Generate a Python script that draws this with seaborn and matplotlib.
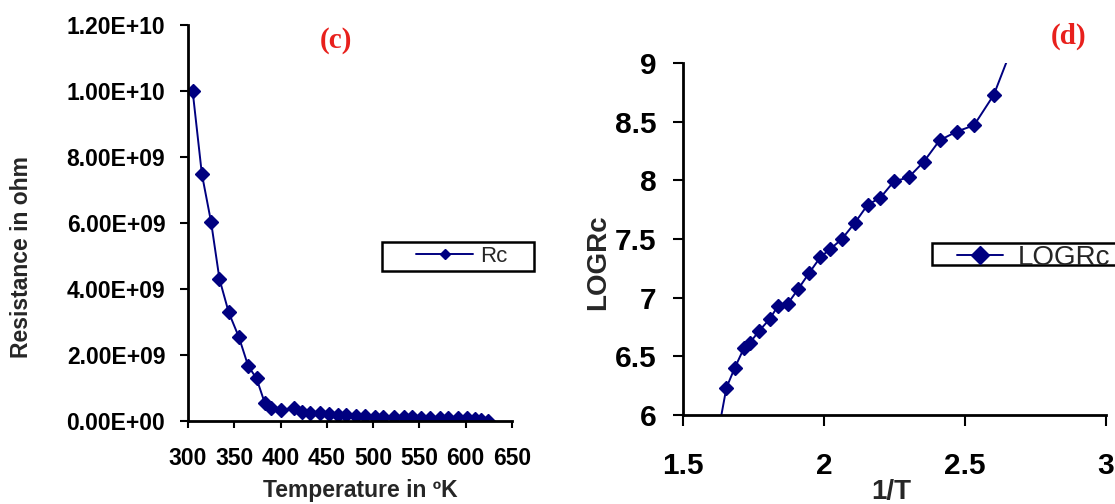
import matplotlib
matplotlib.use("Agg")
import matplotlib.pyplot as plt
import seaborn as sns
import pandas as pd
from matplotlib.patches import Rectangle
from matplotlib.ticker import FuncFormatter, FixedLocator

# ---- data: panel (c) ----
temperature_K = [305, 315, 325, 334, 344, 355, 365, 374, 383,
                 390, 401, 414, 423, 432, 443, 452, 462, 471, 482, 491,
                 502, 511, 522, 533, 542, 552, 561, 572, 581, 592, 601,
                 610, 617, 624]
resistance_ohm = [1.00e10, 7.48e9, 6.02e9, 4.30e9, 3.29e9, 2.54e9, 1.67e9, 1.29e9, 0.54e9,
                  0.38e9, 0.33e9, 0.40e9, 0.28e9, 0.25e9, 0.24e9, 0.22e9, 0.18e9, 0.17e9,
                  0.15e9, 0.14e9, 0.13e9, 0.12e9, 0.12e9, 0.11e9, 0.11e9, 0.10e9, 0.10e9,
                  0.10e9, 0.09e9, 0.09e9, 0.08e9, 0.06e9, 0.03e9, 0.01e9]

# ---- data: panel (d) ----
inv_T = [1.630, 1.654, 1.684, 1.716, 1.736, 1.770, 1.807, 1.837, 1.871, 1.908,
         1.947, 1.987, 2.023, 2.063, 2.109, 2.155, 2.200, 2.248, 2.300, 2.354,
         2.410, 2.470, 2.532, 2.602, 2.670]
log_Rc = [5.92, 6.233, 6.404, 6.569, 6.612, 6.717, 6.817, 6.930, 6.947, 7.072,
          7.209, 7.345, 7.416, 7.499, 7.636, 7.792, 7.852, 7.991, 8.025, 8.159,
          8.341, 8.415, 8.469, 8.728, 9.15]

left_xticks = [300, 350, 400, 450, 500, 550, 600, 650]
left_yticks = [0, 2e9, 4e9, 6e9, 8e9, 1e10, 1.2e10]
right_xticks = [1.5, 2, 2.5, 3]
right_yticks = [6, 6.5, 7, 7.5, 8, 8.5, 9]

df_c = pd.DataFrame({"T": temperature_K, "R": resistance_ohm})
df_d = pd.DataFrame({"invT": inv_T, "logR": log_Rc})

sns.set_theme(style="ticks")
plt.rcParams["font.family"] = ["Liberation Sans", "DejaVu Sans"]

W, H = 1115, 504
fig = plt.figure(figsize=(W / 100, H / 100), dpi=100)
fig.patch.set_facecolor("white")

def fx(px):
    return px / W

def fy(py):
    return 1 - py / H

navy = "#000080"
red = "#e8201c"

# ---------- panel (c) ----------
ax1 = fig.add_axes([fx(188), fy(421), fx(512) - fx(188), fy(25) - fy(421)])
sns.lineplot(data=df_c, x="T", y="R", ax=ax1, color=navy, marker="D",
             markersize=7.3, markeredgecolor=navy, markeredgewidth=1,
             linewidth=1.4, sort=False, estimator=None, label="Rc", legend=False)
ax1.set_xlim(300, 650)
ax1.set_ylim(0, 1.2e10)
ax1.xaxis.set_major_locator(FixedLocator(left_xticks))
ax1.yaxis.set_major_locator(FixedLocator(left_yticks))
ax1.yaxis.set_major_formatter(FuncFormatter(lambda v, p: f"{v:.2E}"))
ax1.xaxis.set_major_formatter(FuncFormatter(lambda v, p: f"{v:g}"))
ax1.tick_params(axis="y", direction="out", length=5.8, width=1.5, pad=10.5, labelsize=16.5, colors="black")
ax1.tick_params(axis="x", direction="out", length=5, width=1.5, pad=13.5, labelsize=16.5, colors="black")
for lab in ax1.get_xticklabels() + ax1.get_yticklabels():
    lab.set_fontweight("bold")
for s in ["top", "right"]:
    ax1.spines[s].set_visible(False)
for s in ["left", "bottom"]:
    ax1.spines[s].set_linewidth(2)
    ax1.spines[s].set_color("black")
ax1.set_xlabel("Temperature in ºK", fontsize=16.5, fontweight="bold", va="center")
ax1.xaxis.set_label_coords((360 - 188) / 324, (421 - 491) / 396)
ax1.set_ylabel("Resistance in ohm", fontsize=16.5, fontweight="bold", va="center")
ax1.yaxis.set_label_coords((22 - 188) / 324, (421 - 257) / 396)

ax1.add_patch(Rectangle((fx(382), fy(271)), fx(534) - fx(382), fy(242) - fy(271),
                        transform=fig.transFigure, facecolor="white", clip_on=False,
                        edgecolor="black", linewidth=1.8, zorder=5))
leg1 = ax1.legend(loc="center left", bbox_to_anchor=(fx(416), fy(256)),
                  bbox_transform=fig.transFigure, frameon=False, fontsize=16,
                  handlelength=2.57, handletextpad=0.32, borderpad=0, borderaxespad=0)
leg1.set_zorder(10)
for h in leg1.legend_handles:
    h.set_markersize(5)

fig.text(fx(335.6), fy(41), "(c)", color=red, fontsize=21, fontweight="bold",
         family=["Liberation Serif", "DejaVu Serif"], ha="center", va="center")

# ---------- panel (d) ----------
ax2 = fig.add_axes([fx(683), fy(415), fx(1106) - fx(683), fy(63) - fy(415)])
sns.lineplot(data=df_d, x="invT", y="logR", ax=ax2, color=navy, marker="D",
             markersize=7.6, markeredgecolor=navy, markeredgewidth=1,
             linewidth=1.4, sort=False, estimator=None, label="LOGRc", legend=False)
ax2.set_xlim(1.5, 3)
ax2.set_ylim(6, 9)
ax2.xaxis.set_major_locator(FixedLocator(right_xticks))
ax2.yaxis.set_major_locator(FixedLocator(right_yticks))
ax2.xaxis.set_major_formatter(FuncFormatter(lambda v, p: f"{v:g}"))
ax2.yaxis.set_major_formatter(FuncFormatter(lambda v, p: f"{v:g}"))
ax2.tick_params(axis="y", direction="out", length=7, width=1.5, pad=12, labelsize=21.5, colors="black")
ax2.tick_params(axis="x", direction="out", length=8, width=1.5, pad=18.5, labelsize=21.5, colors="black")
for lab in ax2.get_xticklabels() + ax2.get_yticklabels():
    lab.set_fontweight("bold")
for s in ["top", "right"]:
    ax2.spines[s].set_visible(False)
for s in ["left", "bottom"]:
    ax2.spines[s].set_linewidth(2)
    ax2.spines[s].set_color("black")
ax2.set_xlabel("1/T", fontsize=20, fontweight="bold", va="center")
ax2.xaxis.set_label_coords((891.6 - 683) / 423, (415 - 492) / 352)
ax2.set_ylabel("LOGRc", fontsize=20, fontweight="bold", va="center")
ax2.yaxis.set_label_coords((598 - 683) / 423, (415 - 262) / 352)

ax2.add_patch(Rectangle((fx(932), fy(265)), fx(1140) - fx(932), fy(243) - fy(265),
                        transform=fig.transFigure, facecolor="white", clip_on=False,
                        edgecolor="black", linewidth=1.8, zorder=5))
leg2 = ax2.legend(loc="center left", bbox_to_anchor=(fx(957), fy(258)),
                  bbox_transform=fig.transFigure, frameon=False, fontsize=20,
                  handlelength=1.65, handletextpad=0.55, borderpad=0, borderaxespad=0)
leg2.set_zorder(10)
for h in leg2.legend_handles:
    h.set_markersize(9)

fig.text(fx(1068.5), fy(36.5), "(d)", color=red, fontsize=21, fontweight="bold",
         family=["Liberation Serif", "DejaVu Serif"], ha="center", va="center")

fig.savefig("out.png", dpi=100, facecolor="white")
